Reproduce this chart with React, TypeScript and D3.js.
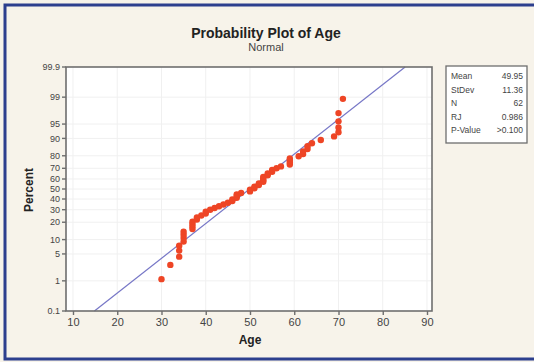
import { useRef, useEffect } from "react";
import * as d3 from "d3";

// sorted ages (62 obs)
const ages = [
  30, 32, 34, 34, 34, 35, 35, 35, 35, 37, 37, 37, 37, 38, 38, 39, 40, 40, 41, 42,
  43, 44, 45, 46, 46, 47, 47, 47, 48, 50, 50, 51, 51, 52, 52, 53, 53, 53, 53, 54,
  54, 55, 55, 56, 57, 59, 59, 59, 59, 61, 62, 62, 63, 63, 64, 66, 69, 70, 70, 70,
  70, 71,
];
const xTicks = [10, 20, 30, 40, 50, 60, 70, 80, 90];
const yTicks = [0.1, 1, 5, 10, 20, 30, 40, 50, 60, 70, 80, 90, 95, 99, 99.9];
const statLabels = ["Mean", "StDev", "N", "RJ", "P-Value"];
const statValues = ["49.95", "11.36", "62", "0.986", ">0.100"];
const MEAN = 49.95;
const SD = 11.36;

// inverse normal cdf (Acklam)
function probit(p: number) {
  const a = [-39.6968302866538, 220.946098424521, -275.928510446969, 138.357751867269, -30.6647980661472, 2.50662827745924];
  const b = [-54.4760987982241, 161.585836858041, -155.698979859887, 66.8013118877197, -13.2806815528857];
  const c = [-0.00778489400243029, -0.322396458041136, -2.40075827716184, -2.54973253934373, 4.37466414146497, 2.93816398269878];
  const d = [0.00778469570904146, 0.32246712907004, 2.445134137143, 3.75440866190742];
  const pl = 0.02425;
  if (p < pl) {
    const q = Math.sqrt(-2 * Math.log(p));
    return (((((c[0] * q + c[1]) * q + c[2]) * q + c[3]) * q + c[4]) * q + c[5]) / ((((d[0] * q + d[1]) * q + d[2]) * q + d[3]) * q + 1);
  }
  if (p > 1 - pl) {
    const q = Math.sqrt(-2 * Math.log(1 - p));
    return -(((((c[0] * q + c[1]) * q + c[2]) * q + c[3]) * q + c[4]) * q + c[5]) / ((((d[0] * q + d[1]) * q + d[2]) * q + d[3]) * q + 1);
  }
  const q = p - 0.5;
  const r = q * q;
  return ((((((a[0] * r + a[1]) * r + a[2]) * r + a[3]) * r + a[4]) * r + a[5]) * q) / (((((b[0] * r + b[1]) * r + b[2]) * r + b[3]) * r + b[4]) * r + 1);
}

export default function App() {
  const svgRef = useRef<SVGSVGElement>(null);

  useEffect(() => {
    if (!svgRef.current) return;
    const width = 534;
    const height = 362;
    const left = 66, right = 432, top = 67, bottom = 311;
    const font = "'Liberation Sans', Arial, sans-serif";

    const svg = d3.select(svgRef.current);
    svg.selectAll("*").remove();
    svg.attr("width", width).attr("height", height);

    svg.append("rect").attr("width", width).attr("height", height).attr("fill", "#f7f3ea");
    svg.append("rect")
      .attr("x", 5).attr("y", 5).attr("width", 540).attr("height", 354)
      .attr("fill", "none").attr("stroke", "#2d3f8e").attr("stroke-width", 3);

    const x = d3.scaleLinear().domain([8.42, 91.13]).range([left, right]);
    const z = d3.scaleLinear().domain([probit(0.001), probit(0.999)]).range([bottom, top]);
    const y = (pct: number) => z(probit(pct / 100));

    svg.append("rect")
      .attr("x", left).attr("y", top).attr("width", right - left).attr("height", bottom - top)
      .attr("fill", "#fff");

    // faint grid
    const grid = svg.append("g").attr("stroke", "#f0f0f0").attr("stroke-width", 1);
    grid.selectAll("line.v").data(xTicks).join("line")
      .attr("x1", (d) => x(d)).attr("x2", (d) => x(d)).attr("y1", top).attr("y2", bottom);
    grid.selectAll("line.h").data(yTicks.slice(1, -1)).join("line")
      .attr("x1", left).attr("x2", right).attr("y1", (d) => y(d)).attr("y2", (d) => y(d));

    // fitted line
    const zLo = probit(0.001), zHi = probit(0.999);
    svg.append("line")
      .attr("x1", x(MEAN + zLo * SD)).attr("y1", z(zLo))
      .attr("x2", x(MEAN + zHi * SD)).attr("y2", z(zHi))
      .attr("stroke", "#7676c6").attr("stroke-width", 1.2);

    // points, median ranks
    const n = ages.length;
    svg.append("g").selectAll("circle").data(ages).join("circle")
      .attr("cx", (d) => x(d))
      .attr("cy", (_, i) => y(((i + 1 - 0.3) / (n + 0.4)) * 100))
      .attr("r", 3.2)
      .attr("fill", "#ee4525");

    // frame
    svg.append("rect")
      .attr("x", left).attr("y", top).attr("width", right - left).attr("height", bottom - top)
      .attr("fill", "none").attr("stroke", "#6e6e6e").attr("stroke-width", 1.6);

    // x axis
    const xa = svg.append("g").attr("transform", `translate(0,${bottom})`)
      .call(d3.axisBottom(x).tickValues(xTicks).tickSize(4).tickPadding(3));
    xa.select(".domain").remove();
    xa.selectAll("line").attr("stroke", "#6e6e6e").attr("stroke-width", 1.4);
    xa.selectAll("text").attr("font-family", font).attr("font-size", 11).attr("fill", "#444");

    // y axis
    const ya = svg.append("g").attr("transform", `translate(${left},0)`);
    ya.selectAll("line").data(yTicks).join("line")
      .attr("x1", -4).attr("x2", 0).attr("y1", (d) => y(d)).attr("y2", (d) => y(d))
      .attr("stroke", "#6e6e6e").attr("stroke-width", 1.4);
    ya.selectAll("text").data(yTicks).join("text")
      .attr("x", -6).attr("y", (d) => y(d)).attr("dy", "0.35em")
      .attr("text-anchor", "end").attr("font-family", font).attr("font-size", 9).attr("fill", "#444")
      .text((d) => String(d));

    // titles
    svg.append("text").attr("x", 266).attr("y", 38).attr("text-anchor", "middle")
      .attr("font-family", font).attr("font-weight", "bold").attr("font-size", 14).attr("fill", "#222")
      .text("Probability Plot of Age");
    svg.append("text").attr("x", 266).attr("y", 51).attr("text-anchor", "middle")
      .attr("font-family", font).attr("font-size", 11).attr("fill", "#444")
      .text("Normal");
    svg.append("text").attr("x", 250).attr("y", 344).attr("text-anchor", "middle")
      .attr("font-family", font).attr("font-weight", "bold").attr("font-size", 12).attr("fill", "#222")
      .text("Age");
    svg.append("text").attr("transform", "translate(33,190) rotate(-90)").attr("text-anchor", "middle")
      .attr("font-family", font).attr("font-weight", "bold").attr("font-size", 12).attr("fill", "#222")
      .text("Percent");

    // stats box
    const bx = 446, by = 66, bw = 81, bh = 77;
    svg.append("rect").attr("x", bx).attr("y", by).attr("width", bw).attr("height", bh)
      .attr("fill", "#fff").attr("stroke", "#6e6e6e").attr("stroke-width", 1.3);
    const rows = svg.append("g").attr("font-family", font).attr("font-size", 8.5).attr("fill", "#444");
    rows.selectAll("text.l").data(statLabels).join("text")
      .attr("x", bx + 5).attr("y", (_, i) => by + 13 + i * 13.6)
      .text((d) => d);
    rows.selectAll("text.v").data(statValues).join("text")
      .attr("x", bx + bw - 4).attr("y", (_, i) => by + 13 + i * 13.6).attr("text-anchor", "end")
      .text((d) => d);
  }, []);

  return <svg ref={svgRef} style={{ position: "absolute", left: 0, top: 0, display: "block" }} />;
}
